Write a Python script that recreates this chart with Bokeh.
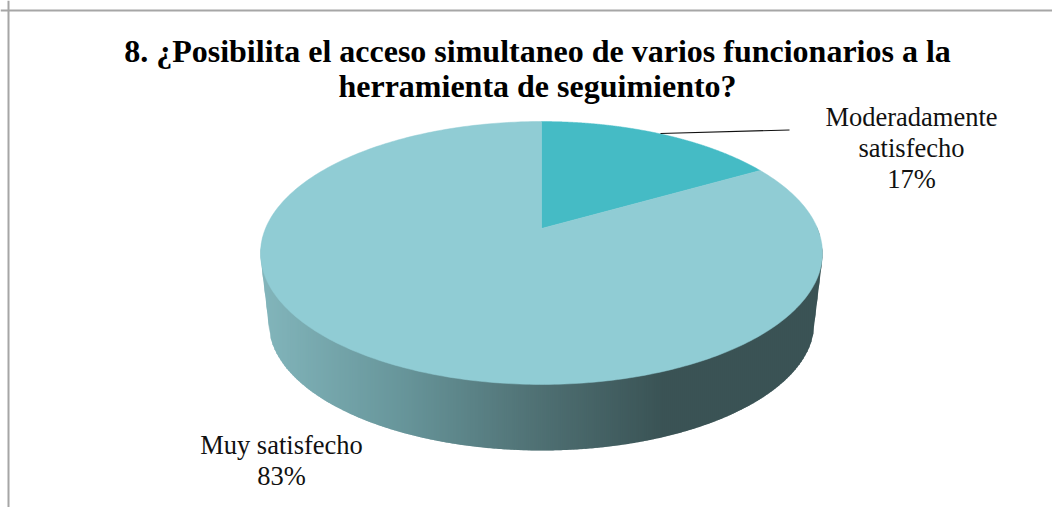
import numpy as np
from bokeh.plotting import figure
from bokeh.models import Range1d, Span
from bokeh.core.properties import value
from bokeh.embed import file_html
from bokeh.resources import INLINE

title_lines = ["8. ¿Posibilita el acceso simultaneo de varios funcionarios a la",
               "herramienta de seguimiento?"]
categories = ["Moderadamente satisfecho", "Muy satisfecho"]
values = [16.67, 83.33]
slice_colors = ["#45BBC5", "#90CCD4"]

# page-pixel coordinates on the plot's own ranges
W, H = 1052, 507
p = figure(width=W, height=H, x_range=Range1d(0, W), y_range=Range1d(H, 0),
           output_backend="svg", toolbar_location=None, min_border=0,
           outline_line_color=None, background_fill_color="white")
p.axis.visible = False
p.grid.visible = False

# projected disc: apex (541,228); top 121, bottom 384, widest half-width 281
CX, CY, K, A, B = 541.0, 228.0, 0.1863, 126.9, 276.0

def disc(theta):
    d = 1 + K * np.cos(theta)
    return CX + B * np.sin(theta) / d, CY - A * np.cos(theta) / d

# side wall, as thin vertical strips
grad_x = [260, 400, 541, 665, 822]
grad_r = [131, 104, 79, 58, 58]
grad_g = [182, 150, 112, 83, 83]
grad_b = [188, 155, 115, 85, 85]

BX, BY, BRX, BRY = 541.0, 322.0, 273.0, 128.0

t = np.linspace(np.pi / 2 - 0.12, 3 * np.pi / 2 + 0.12, 1200)
tx, ty = disc(t)
order = np.argsort(tx)
tx, ty = tx[order], ty[order]

def lower(x):
    x = np.asarray(x, float)
    inner = np.clip((x - BX) / BRX, -1, 1)
    y = BY + BRY * np.sqrt(1 - inner ** 2)
    y = np.where(x < BX - BRX, 257 + (x - 260) / 8 * 65, y)
    y = np.where(x > BX + BRX, 257 + (822 - x) / 8 * 65, y)
    return y

edges = np.arange(260, 822, 2.0)
xs, ys, cols = [], [], []
for a in edges:
    b = a + 3 if a + 3 <= 822 else 822
    m = a + 1
    ya, yb = np.interp([a, b], tx, ty) - 3
    xs.append([a, b, b, a])
    ys.append([ya, yb, float(lower(b)), float(lower(a))])
    cols.append("#%02x%02x%02x" % (int(np.interp(m, grad_x, grad_r)),
                                   int(np.interp(m, grad_x, grad_g)),
                                   int(np.interp(m, grad_x, grad_b))))
p.patches(xs, ys, fill_color=cols, line_color=None)

# top face, from the values
total = sum(values)
start = 0.0
for v, c in zip(values, slice_colors):
    end = start + v / total * 2 * np.pi
    th = np.linspace(start, end, 360)
    x, y = disc(th)
    p.patch([CX, *x], [CY, *y], fill_color=c, line_color=c, line_width=0.5)
    start = end

# leader line
p.line([660, 789], [133, 129.5], line_color="#111111", line_width=1.2)

# texts
p.text([537, 537], [50, 85], text=title_lines, text_font=value("Liberation Serif"),
       text_font_style="bold", text_font_size="32px", text_align="center",
       text_baseline="alphabetic", text_color="black")
lab_x = [911, 911, 911, 281, 281]
lab_y = [116, 147, 178, 444, 475]
lab_t = ["Moderadamente", "satisfecho", f"{round(values[0])}%",
         "Muy satisfecho", f"{round(values[1])}%"]
p.text(lab_x, lab_y, text=lab_t, text_font=value("Liberation Serif"),
       text_font_size="26.5px", text_align="center", text_baseline="alphabetic",
       text_color="#111111")

# frame
p.add_layout(Span(location=10, dimension="width", line_color="#A6A6A6", line_width=2))
p.add_layout(Span(location=8, dimension="height", line_color="#A6A6A6", line_width=2))

open("out.html", "w").write(file_html(p, INLINE))
